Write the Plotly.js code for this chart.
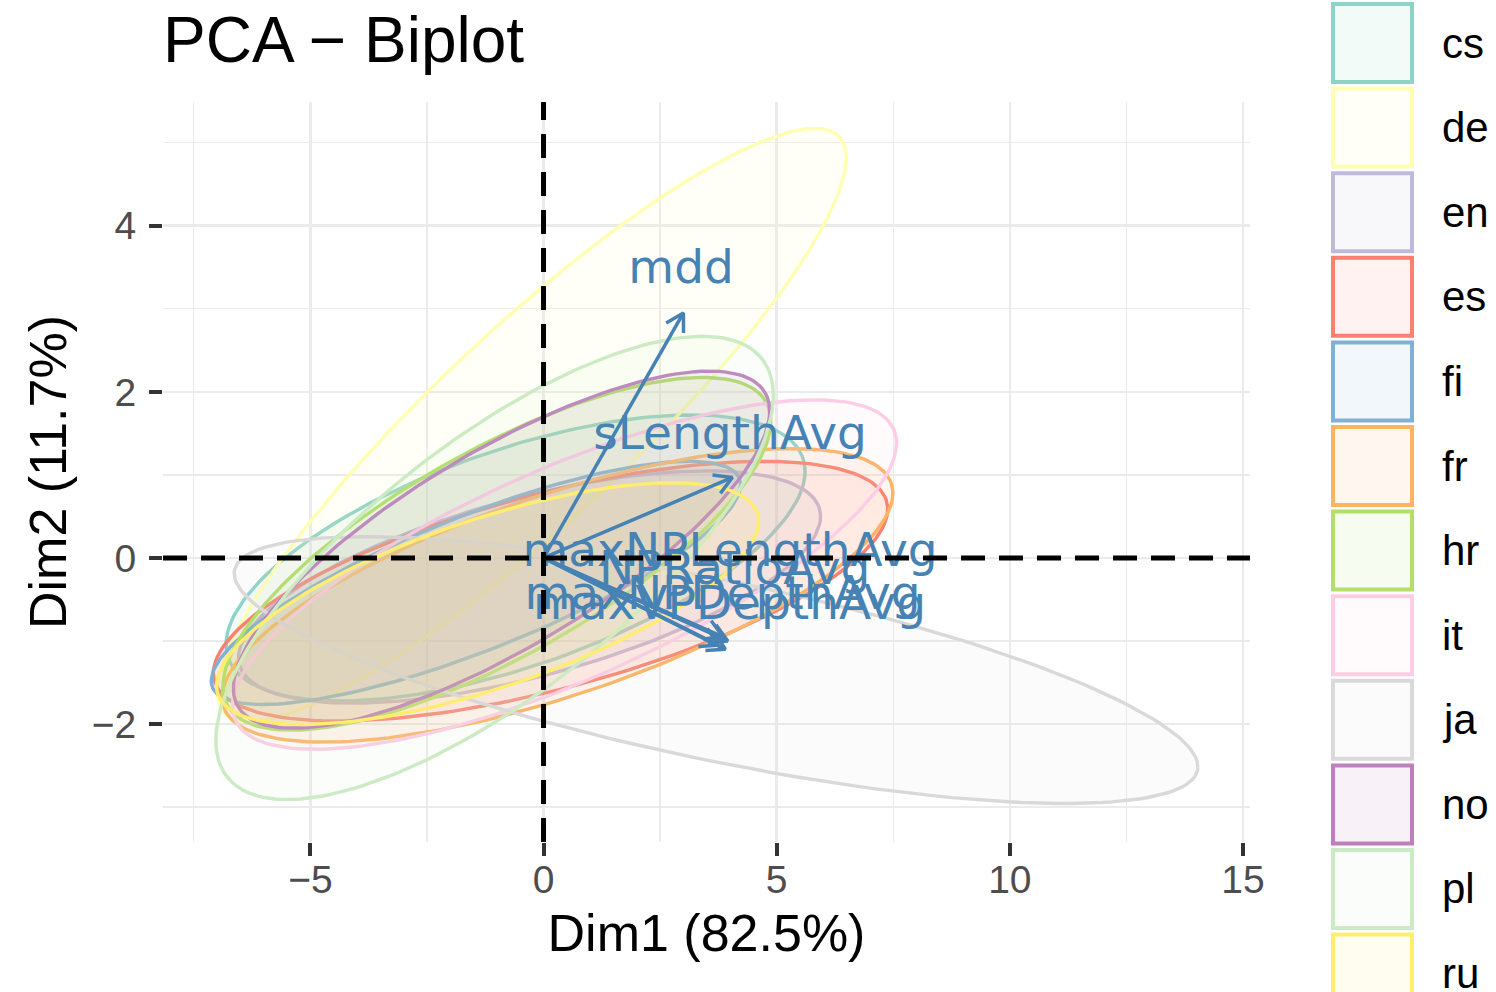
<!DOCTYPE html>
<html><head><meta charset="utf-8">
<script src="https://cdn.plot.ly/plotly-3.0.1.min.js"></script>
<style>body{margin:0;background:#fff}#chart{width:1496px;height:992px}</style>
</head><body><div id="chart"></div>
<script>
// ---- data ----
const groups = ['cs','de','en','es','fi','fr','hr','it','ja','no','pl','ru'];
const groupColors = ['#8DD3C7','#FFFFB3','#BEBADA','#FB8072','#80B1D3','#FDB462','#B3DE69','#FCCDE5','#D9D9D9','#BC80BD','#CCEBC5','#FFED6F'];
// concentration ellipse parameters per group (Dim1/Dim2 units)
const ellCenterX   = [-0.6, -0.25, -0.3, 0.15, -1.45, 0.3, -1.0, 0.45, 3.7, -0.9, -1.05, -1.2];
const ellCenterY   = [0.0, 1.6, -0.35, -0.4, -0.3, -0.45, 0.05, -0.2, -1.35, 0.1, -0.12, -0.55];
const ellSemiMajor = [6.3, 7.5, 6.3, 7.3, 5.8, 7.3, 6.1, 7.3, 10.4, 6.0, 6.36, 5.9];
const ellSemiMinor = [1.35, 1.4, 1.1, 1.2, 0.85, 1.25, 1.35, 1.35, 1.1, 1.3, 1.75, 1.05];
const ellAngleDeg  = [10, 26.5, 8, 8, 12, 10, 16, 13, -6.5, 17, 20.8, 10];

const varNames = ['mdd','sLengthAvg','maxNPLengthAvg','NPRatioAvg','maxNPDepthAvg','maxVPDepthAvg'];
const varDim1  = [3.0, 4.05, 3.95, 3.75, 3.9, 3.85];
const varDim2  = [2.95, 0.97, -1.0, -1.05, -1.1, -0.95];
const labelDim1 = [2.95, 4.0, 4.0, 4.1, 3.84, 3.99];
const labelDim2 = [3.45, 1.45, 0.04, -0.17, -0.47, -0.59];

const xTickVals = [-5, 0, 5, 10, 15];
const xTickText = ['\u22125', '0', '5', '10', '15'];
const yTickVals = [-2, 0, 2, 4];
const yTickText = ['\u22122', '0', '2', '4'];

// ---- layout geometry ----
const W = 1496, H = 992;
const mL = 163, mR = 246, mT = 102, mB = 150;
const plotW = W - mL - mR, plotH = H - mT - mB;
const xRange = [-8.16, 15.15], yRange = [-3.42, 5.49];
const pxPerX = plotW / (xRange[1] - xRange[0]);
const pxPerY = plotH / (yRange[1] - yRange[0]);

function hexToRgba(h, a) {
  const r = parseInt(h.slice(1,3),16), g = parseInt(h.slice(3,5),16), b = parseInt(h.slice(5,7),16);
  return 'rgba(' + r + ',' + g + ',' + b + ',' + a + ')';
}

const traces = [];
groups.forEach((g, i) => {
  const th = ellAngleDeg[i] * Math.PI / 180;
  const xs = [], ys = [];
  const n = 180;
  for (let k = 0; k <= n; k++) {
    const t = 2 * Math.PI * k / n;
    const u = ellSemiMajor[i] * Math.cos(t), v = ellSemiMinor[i] * Math.sin(t);
    xs.push(ellCenterX[i] + u * Math.cos(th) - v * Math.sin(th));
    ys.push(ellCenterY[i] + u * Math.sin(th) + v * Math.cos(th));
  }
  traces.push({
    type: 'scatter', mode: 'lines', x: xs, y: ys, name: g,
    fill: 'toself', fillcolor: hexToRgba(groupColors[i], 0.1),
    line: {color: groupColors[i], width: 3.4}, showlegend: false, hoverinfo: 'name'
  });
});

// arrows
const arrowColor = '#4682B4';
varNames.forEach((v, i) => {
  const x1 = varDim1[i], y1 = varDim2[i];
  const ang = Math.atan2(y1 * pxPerY, x1 * pxPerX);
  const L = 20, sp = Math.PI / 6;
  const ax = x1 - L * Math.cos(ang - sp) / pxPerX, ay = y1 - L * Math.sin(ang - sp) / pxPerY;
  const bx = x1 - L * Math.cos(ang + sp) / pxPerX, by = y1 - L * Math.sin(ang + sp) / pxPerY;
  traces.push({
    type: 'scatter', mode: 'lines', name: v,
    x: [0, x1, null, ax, x1, bx], y: [0, y1, null, ay, y1, by],
    line: {color: arrowColor, width: 3.5}, showlegend: false, hoverinfo: 'name'
  });
});
traces.push({
  type: 'scatter', mode: 'text', x: labelDim1, y: labelDim2, text: varNames,
  textposition: 'middle center',
  textfont: {family: 'DejaVu Sans', size: 47, color: arrowColor},
  showlegend: false, hoverinfo: 'text'
});

// legend drawn as shapes + annotations
const shapes = [
  {type: 'line', xref: 'paper', yref: 'y', x0: 0, x1: 1, y0: 0, y1: 0, layer: 'above',
   line: {color: '#000', width: 5, dash: '24px,14px'}},
  {type: 'line', xref: 'x', yref: 'paper', x0: 0, x1: 0, y0: 0, y1: 1, layer: 'above',
   line: {color: '#000', width: 5, dash: '24px,14px'}}
];
const annotations = [];
const px2xp = px => (px - mL) / plotW;
const py2yp = py => (H - mB - py) / plotH;
groups.forEach((g, i) => {
  const top = 4 + 84.6 * i, bot = top + 78;
  shapes.push({type: 'rect', xref: 'paper', yref: 'paper', layer: 'above',
    x0: px2xp(1333), x1: px2xp(1412), y0: py2yp(bot), y1: py2yp(top),
    fillcolor: hexToRgba(groupColors[i], 0.1), line: {color: groupColors[i], width: 4}});
  annotations.push({xref: 'paper', yref: 'paper', x: px2xp(1440), y: py2yp((top + bot) / 2),
    xanchor: 'left', yanchor: 'middle', text: g, showarrow: false,
    font: {family: 'Liberation Sans', size: 42, color: '#000'}});
});

const layout = {
  width: W, height: H,
  margin: {l: mL, r: mR, t: mT, b: mB},
  paper_bgcolor: '#fff', plot_bgcolor: '#fff',
  font: {family: 'Liberation Sans', color: '#000'},
  showlegend: false,
  title: {text: 'PCA \u2212 Biplot', font: {family: 'Liberation Sans', size: 64, color: '#000'},
    x: 163 / W, xanchor: 'left', xref: 'container', y: 1 - 40 / H, yanchor: 'middle', yref: 'container'},
  xaxis: {
    range: xRange, tickvals: xTickVals, ticktext: xTickText,
    showgrid: true, gridcolor: '#EBEBEB', gridwidth: 2.6, zeroline: false, showline: false,
    minor: {tickvals: [-7.5, -2.5, 2.5, 7.5, 12.5], showgrid: true, gridcolor: '#EBEBEB', gridwidth: 1.4},
    ticks: 'outside', ticklen: 13, tickwidth: 4, tickcolor: '#333',
    ticklabelstandoff: -10,
    tickfont: {family: 'Liberation Sans', size: 39, color: '#4D4D4D'},
    title: {text: 'Dim1 (82.5%)', font: {family: 'Liberation Sans', size: 52, color: '#000'}, standoff: 14}
  },
  yaxis: {
    range: yRange, tickvals: yTickVals, ticktext: yTickText,
    showgrid: true, gridcolor: '#EBEBEB', gridwidth: 2.6, zeroline: false, showline: false,
    minor: {tickvals: [-3, -1, 1, 3, 5], showgrid: true, gridcolor: '#EBEBEB', gridwidth: 1.4},
    ticks: 'outside', ticklen: 13, tickwidth: 4, tickcolor: '#333',
    ticklabelstandoff: 5,
    tickfont: {family: 'Liberation Sans', size: 39, color: '#4D4D4D'},
    title: {text: 'Dim2 (11.7%)', font: {family: 'Liberation Sans', size: 52, color: '#000'}, standoff: 8}
  },
  shapes: shapes, annotations: annotations
};

Plotly.newPlot('chart', traces, layout, {staticPlot: true, displayModeBar: false});
</script>
</body></html>
